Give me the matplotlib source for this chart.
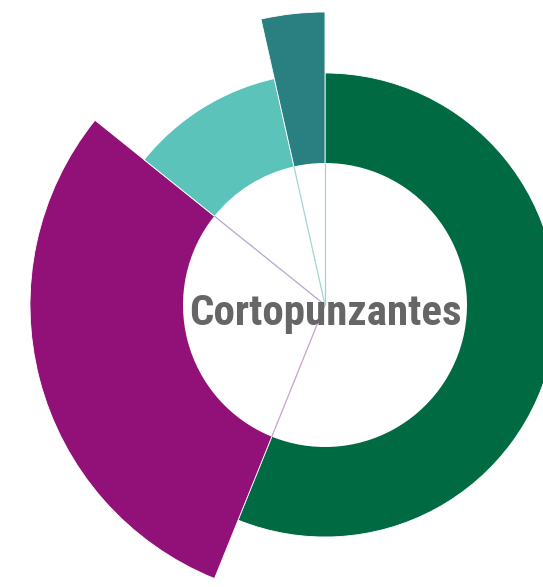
import numpy as np
import matplotlib
matplotlib.use("Agg")
import matplotlib.pyplot as plt

# Data
categories = ["Verde", "Morado", "Turquesa claro", "Turquesa oscuro"]
shares = [56.0, 29.6, 10.7, 3.5]          # angular share (%)
radius_values = [232, 295, 232, 293]      # outer radius (relative units)
colors = ["#006b43", "#921178", "#5bc3b9", "#2a8080"]
seam_colors = ["#c9a3c9", "#b9a6cc", "#9fd8d2", "#a9cfcf"]
center_label = "Cortopunzantes"
hole = 142

W, H = 543, 587
fig = plt.figure(figsize=(W / 100, H / 100), dpi=100)
cx, cy = 325, H - 305
R = 300
ax = fig.add_axes([(cx - R) / W, (cy - R) / H, 2 * R / W, 2 * R / H], projection="polar")
ax.set_theta_zero_location("N")
ax.set_theta_direction(-1)
ax.set_ylim(0, R)
ax.axis("off")

total = sum(shares)
widths = [2 * np.pi * s / total for s in shares]
starts = np.concatenate([[0], np.cumsum(widths)[:-1]])
ends = np.cumsum(widths)

ax.bar(starts, radius_values, width=widths, bottom=0, align="edge",
       color=colors, edgecolor="white", linewidth=0.6, clip_on=False)
ax.bar(starts, [hole] * len(shares), width=widths, bottom=0, align="edge",
       color="white", linewidth=0, clip_on=False)

# faint seams between slices inside the hole
for th, sc in zip(ends, seam_colors):
    ax.plot([th, th], [0, hole], color=sc, linewidth=0.9, solid_capstyle="butt",
            clip_on=False)

fig.text(cx / W, (cy - 8) / H, center_label, ha="center", va="center",
         fontsize=31, fontweight="bold", color="#666666",
         family=["Roboto Condensed", "DejaVu Sans"])

fig.savefig("out.png", dpi=100)
